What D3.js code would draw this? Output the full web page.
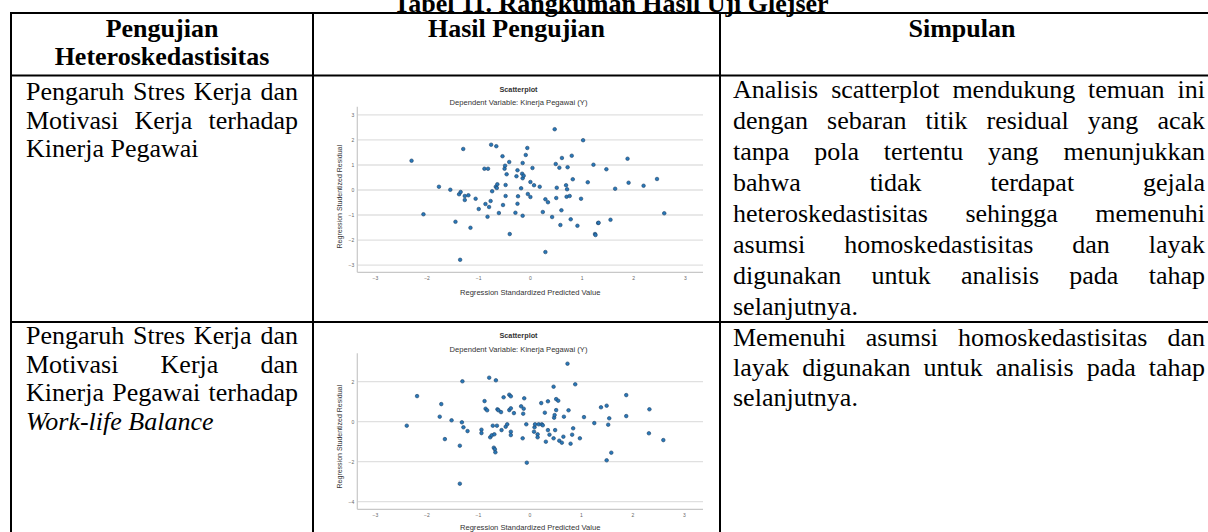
<!DOCTYPE html>
<html><head><meta charset="utf-8">
<script src="https://cdn.jsdelivr.net/npm/d3@7"></script>
<style>html,body{margin:0;padding:0;background:#fff;}svg{display:block;}</style>
</head><body>
<svg id="c" width="1208" height="532"></svg>
<script>
// ---------- data ----------
const tableTitle = "Tabel 11. Rangkuman Hasil Uji Glejser";
const headers = [["Pengujian", "Heteroskedastisitas"], ["Hasil Pengujian"], ["Simpulan"]];
const row1Col1 = ["Pengaruh Stres Kerja dan", "Motivasi Kerja terhadap", "Kinerja Pegawai"];
const row2Col1 = ["Pengaruh Stres Kerja dan", "Motivasi Kerja dan", "Kinerja Pegawai terhadap"];
const row2Col1Italic = "Work-life Balance";
const row1Col3 = ["Analisis scatterplot mendukung temuan ini", "dengan sebaran titik residual yang acak",
  "tanpa pola tertentu yang menunjukkan", "bahwa tidak terdapat gejala", "heteroskedastisitas sehingga memenuhi",
  "asumsi homoskedastisitas dan layak", "digunakan untuk analisis pada tahap", "selanjutnya."];
const row2Col3 = ["Memenuhi asumsi homoskedastisitas dan", "layak digunakan untuk analisis pada tahap", "selanjutnya."];
const chartTitle = "Scatterplot";
const chartSubtitle = "Dependent Variable: Kinerja Pegawai (Y)";
const xAxisLabel = "Regression Standardized Predicted Value";
const yAxisLabel = "Regression Studentized Residual";
const xTicks = [-3, -2, -1, 0, 1, 2, 3];
const yTicks1 = [-3, -2, -1, 0, 1, 2, 3];
const yTicks2 = [-4, -2, 0, 2];
// [standardized predicted value, studentized residual]
const points1 = [[-2.29,1.17],[-2.06,-0.97],[-1.76,0.13],[-1.54,0.01],[-1.44,-1.27],[-1.37,-0.17],[-1.34,-0.08],
 [-1.35,-2.79],[-1.29,1.64],[-1.26,-0.24],[-1.26,-0.40],[-1.19,-0.21],[-1.15,-1.51],[-1.05,-0.35],[-0.99,-0.76],
 [-0.88,0.85],[-0.86,-0.56],[-0.81,0.85],[-0.82,-1.07],[-0.79,-0.68],[-0.75,1.81],[-0.76,-0.44],[-0.73,-0.05],
 [-0.66,0.13],[-0.65,1.75],[-0.64,0.08],[-0.63,0.23],[-0.60,-0.92],[-0.53,1.35],[-0.52,-0.60],[-0.49,0.85],
 [-0.48,0.97],[-0.47,0.20],[-0.47,-0.24],[-0.45,0.63],[-0.40,1.12],[-0.39,-1.76],[-0.26,0.55],[-0.28,-0.91],
 [-0.24,0.79],[-0.23,-0.25],[-0.24,-0.55],[-0.17,0.07],[-0.15,0.65],[-0.14,1.08],[-0.14,0.47],[-0.14,-1.03],
 [-0.12,0.57],[-0.08,1.40],[-0.05,1.68],[-0.04,-0.16],[0.01,-0.28],[0.01,0.32],[0.05,0.88],[0.08,0.19],
 [0.19,0.13],[0.25,-0.88],[0.30,-0.37],[0.30,-2.48],[0.35,-0.49],[0.43,-1.08],[0.48,2.43],[0.50,1.04],
 [0.51,-0.32],[0.52,0.09],[0.57,0.89],[0.59,-1.40],[0.61,-0.81],[0.62,1.28],[0.70,0.19],[0.71,-0.27],
 [0.72,0.03],[0.73,0.91],[0.77,-0.24],[0.79,-1.17],[0.81,1.37],[0.83,0.43],[0.92,-1.43],[0.99,-0.35],
 [1.03,1.99],[1.12,0.31],[1.23,1.01],[1.26,-1.76],[1.27,-1.80],[1.32,-1.32],[1.33,-1.31],[1.48,0.83],
 [1.56,-1.19],[1.65,0.05],[1.89,1.25],[1.91,0.29],[2.20,0.17],[2.46,0.44],[2.60,-0.93]];
const points2 = [[-2.38,-0.20],[-2.18,1.28],[-1.74,0.25],[-1.71,0.88],[-1.64,-0.87],[-1.51,0.07],[-1.35,-1.20],
 [-1.35,-3.10],[-1.31,-0.03],[-1.30,2.02],[-1.28,-0.28],[-1.20,-0.47],[-0.93,-0.40],[-0.93,-0.57],[-0.87,1.03],
 [-0.85,0.65],[-0.82,0.57],[-0.78,2.20],[-0.76,-0.78],[-0.73,-0.68],[-0.71,-0.20],[-0.69,-1.30],[-0.67,-1.38],
 [-0.68,-0.63],[-0.66,-1.53],[-0.65,2.07],[-0.63,-0.20],[-0.62,0.62],[-0.60,0.57],[-0.55,0.48],[-0.54,-0.42],
 [-0.50,1.22],[-0.46,-0.25],[-0.43,-0.13],[-0.39,1.35],[-0.39,0.58],[-0.36,1.27],[-0.36,0.67],[-0.36,-0.50],
 [-0.36,-0.67],[-0.30,0.43],[-0.16,0.77],[-0.13,-0.83],[-0.12,0.40],[-0.10,1.17],[-0.11,0.65],[-0.06,-0.13],
 [-0.05,-2.05],[0.09,-0.50],[0.10,-0.28],[0.11,-0.13],[0.16,-0.63],[0.16,-0.78],[0.18,-0.13],[0.23,0.93],
 [0.24,-0.13],[0.26,-0.18],[0.30,0.45],[0.32,-1.00],[0.36,1.02],[0.36,-0.42],[0.39,-0.65],[0.47,-0.83],
 [0.47,1.75],[0.48,0.20],[0.49,0.33],[0.50,-0.42],[0.52,1.13],[0.52,0.58],[0.56,1.05],[0.58,-0.95],
 [0.63,-1.05],[0.66,-0.75],[0.67,0.25],[0.74,2.90],[0.76,0.57],[0.80,-1.10],[0.83,-0.65],[0.85,-0.33],
 [0.89,1.87],[0.98,-0.83],[1.06,0.23],[1.26,-0.07],[1.39,0.72],[1.50,0.80],[1.50,-1.93],[1.53,-0.15],
 [1.55,0.17],[1.59,-1.55],[1.88,1.33],[1.88,0.28],[2.32,-0.58],[2.33,0.62],[2.60,-0.92]];

// ---------- drawing ----------
const svg = d3.select("#c");
svg.append("rect").attr("width", 1208).attr("height", 532).attr("fill", "#fff");
const serif = "'Liberation Serif','Times New Roman',serif";
const sans = "'Liberation Sans',Arial,sans-serif";
const FS = 26;

// title (cut off at top, as in the reference)
svg.append("text").attr("x", 611).attr("y", 11.5).attr("text-anchor", "middle")
  .attr("font-family", serif).attr("font-weight", "bold").attr("font-size", FS).text(tableTitle);

// table lines
const colX = [11, 313, 720];
const rowY = [13, 75.5, 322];
const lines = svg.append("g").attr("stroke", "#000").attr("stroke-width", 2);
rowY.forEach(y => lines.append("line").attr("x1", 10).attr("x2", 1208).attr("y1", y).attr("y2", y));
colX.forEach(x => lines.append("line").attr("x1", x).attr("x2", x).attr("y1", 12).attr("y2", 532));

// headers
const hdr = svg.append("g").attr("font-family", serif).attr("font-weight", "bold").attr("font-size", FS).attr("text-anchor", "middle");
const hdrCx = [162, 516.5, 962];
headers.forEach((h, i) => h.forEach((t, j) => hdr.append("text").attr("x", hdrCx[i]).attr("y", 37 + j * 27.5).text(t)));

// justified text helper (last line of each paragraph is left aligned)
function para(linesArr, x0, width, y0, pitch, italicLast) {
  const g = svg.append("g").attr("font-family", serif).attr("font-size", FS).attr("fill", "#000");
  linesArr.forEach((ln, i) => {
    const y = y0 + i * pitch;
    const last = i === linesArr.length - 1;
    const italic = italicLast && last;
    const words = ln.split(" ");
    const nodes = words.map(w => g.append("text").attr("y", y).attr("font-style", italic ? "italic" : null).text(w));
    const ws = nodes.map(n => n.node().getComputedTextLength());
    const total = d3.sum(ws);
    const gap = (!last && words.length > 1) ? (width - total) / (words.length - 1) : FS * 0.25;
    let x = x0;
    nodes.forEach((n, k) => { n.attr("x", x); x += ws[k] + gap; });
  });
}
para(row1Col1, 26, 272, 100, 28.5, false);
para(row2Col1.concat([row2Col1Italic]), 26, 272, 344, 28.5, true);
para(row1Col3, 733, 472, 97.5, 31, false);
para(row2Col3, 733, 472, 346, 30, false);

// scatter charts
function scatter(points, yTicks, xDom, yDom, box, lay) {
  const x = d3.scaleLinear().domain(xDom).range([box.l, box.r]);
  const y = d3.scaleLinear().domain(yDom).range([box.b, box.t]);
  const g = svg.append("g").attr("font-family", sans);
  g.append("text").attr("x", lay.cx).attr("y", lay.titleY).attr("text-anchor", "middle")
    .attr("font-size", 7.3).attr("font-weight", "bold").attr("fill", "#333").text(chartTitle);
  g.append("text").attr("x", lay.cx).attr("y", lay.subY).attr("text-anchor", "middle")
    .attr("font-size", 7.6).attr("fill", "#333").text(chartSubtitle);
  g.append("g").selectAll("line").data(yTicks).join("line")
    .attr("x1", box.l).attr("x2", box.r).attr("y1", d => y(d)).attr("y2", d => y(d))
    .attr("stroke", "#e0e0e0").attr("stroke-width", 1.3);
  const ay = g.append("g").attr("transform", `translate(${box.l},0)`)
    .call(d3.axisLeft(y).tickValues(yTicks).tickSize(0).tickPadding(3).tickFormat(d3.format("d")));
  const ax = g.append("g").attr("transform", `translate(0,${box.b})`)
    .call(d3.axisBottom(x).tickValues(xTicks).tickSize(0).tickPadding(4).tickFormat(d3.format("d")));
  [ax, ay].forEach(a => {
    a.select(".domain").attr("stroke", "#c8c8c8").attr("stroke-width", 1.2);
    a.selectAll("text").attr("font-size", 5).attr("fill", "#666").attr("font-family", sans);
  });
  ay.select(".domain").attr("d", `M0,${box.t}V${box.b}`);
  ax.select(".domain").attr("d", `M${box.l},0H${box.r}`);
  g.append("text").attr("x", (box.l + box.r) / 2).attr("y", lay.xLabY).attr("text-anchor", "middle")
    .attr("font-size", 7.6).attr("fill", "#333").text(xAxisLabel);
  g.append("text").attr("transform", `translate(${lay.yLabX},${lay.yLabCy}) rotate(-90)`).attr("text-anchor", "middle")
    .attr("font-size", 7).attr("fill", "#333").text(yAxisLabel);
  g.append("g").selectAll("circle").data(points).join("circle")
    .attr("cx", d => x(d[0])).attr("cy", d => y(d[1])).attr("r", 1.8)
    .attr("fill", "#2878b8").attr("stroke", "#1d3f66").attr("stroke-width", 0.6);
}
scatter(points1, yTicks1, [-3.34, 3.35], [-3.29, 3.33], {l: 357.3, r: 703, t: 106.7, b: 272.3},
  {cx: 518.5, titleY: 91.5, subY: 104.5, xLabY: 294.5, yLabX: 342, yLabCy: 196.7});
scatter(points2, yTicks2, [-3.34, 3.37], [-4.38, 3.42], {l: 357.3, r: 703, t: 353.3, b: 509.3},
  {cx: 518.5, titleY: 338, subY: 351.5, xLabY: 529.8, yLabX: 342, yLabCy: 436.7});
</script>
</body></html>
